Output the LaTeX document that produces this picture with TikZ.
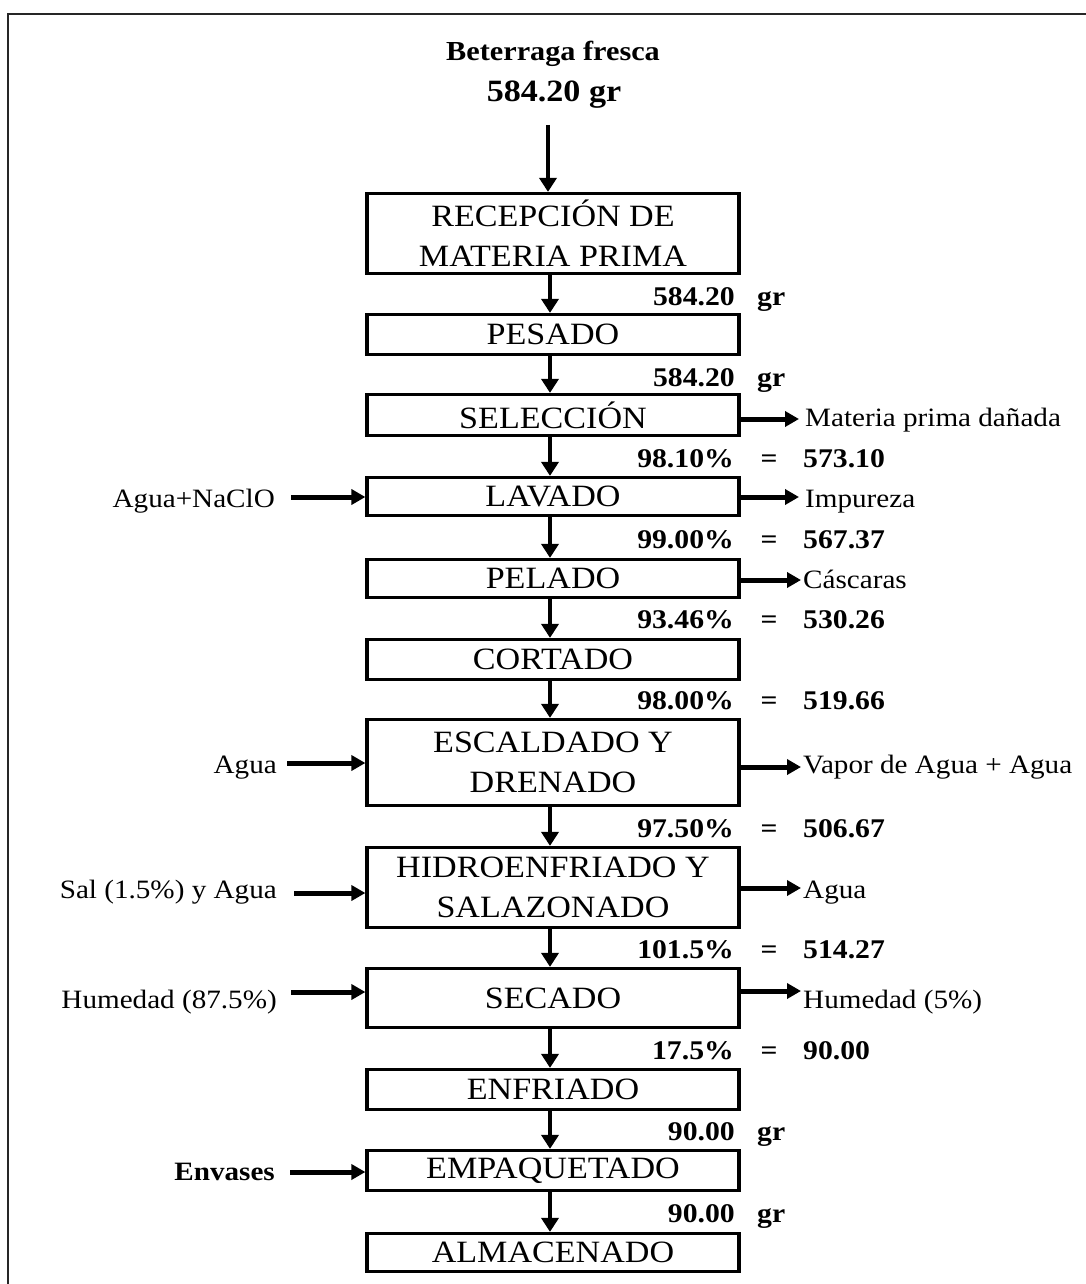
\documentclass[tikz,border=0pt]{standalone}
\usepackage{fontspec}
\setmainfont{Liberation Serif}[FakeStretch=1.1]
\usetikzlibrary{arrows.meta}
\begin{document}
\begin{tikzpicture}[x=1pt,y=-1pt,
  stepbox/.style={draw, line width=3.2pt, minimum width=372pt, inner sep=0pt,
    align=center, font=\fontsize{31}{40}\selectfont},
  qty/.style={inner sep=0pt, font=\bfseries\fontsize{27}{30}\selectfont},
  side/.style={inner sep=0pt, font=\fontsize{26.5}{30}\selectfont},
  vflow/.style={line width=4pt, -{Triangle[length=14pt,width=17pt]}},
  sflow/.style={line width=5pt, -{Triangle[length=14pt,width=15pt]}},
]
\useasboundingbox (0,0) rectangle (1086,1284);
% frame
\draw[line width=2pt, black!85] (1086,14) -- (8,14) -- (8,1284);

% raw material
\node[qty, font=\bfseries\fontsize{27.5}{30}\selectfont, anchor=base] (raw) at (553,61) {Beterraga fresca};
\node[qty, font=\bfseries\fontsize{31}{32}\selectfont, anchor=base] (rawq) at (554,102) {584.20 gr};
\coordinate (feed) at (548,125);

% process steps
\node[stepbox, minimum height=80pt] (rec) at (553,233.5) {RECEPCIÓN DE\\MATERIA PRIMA};
\node[stepbox, minimum height=40pt] (pes) at (553,334.5) {PESADO};
\node[stepbox, minimum height=41pt] (sel) at (553,415) {SELECCIÓN};
\node[stepbox, minimum height=38pt] (lav) at (553,496.5) {LAVADO};
\node[stepbox, minimum height=38pt] (pel) at (553,578.5) {PELADO};
\node[stepbox, minimum height=40pt] (cor) at (553,659.5) {CORTADO};
\node[stepbox, minimum height=86pt] (esc) at (553,762.5) {ESCALDADO Y\\DRENADO};
\node[stepbox, minimum height=80pt] (hid) at (553,887.5) {HIDROENFRIADO Y\\SALAZONADO};
\node[stepbox, minimum height=59pt] (sec) at (553,998) {SECADO};
\node[stepbox, minimum height=40pt] (enf) at (553,1089.5) {ENFRIADO};
\node[stepbox, minimum height=40pt] (emp) at (553,1170.5) {EMPAQUETADO};
\node[stepbox, minimum height=38pt] (alm) at (553,1252.5) {ALMACENADO};

% main flow
\draw[vflow] (feed) -- (rec.north -| feed);
\foreach \a/\b in {rec/pes, pes/sel, sel/lav, lav/pel, pel/cor, cor/esc,
                   esc/hid, hid/sec, sec/enf, enf/emp, emp/alm}
  \draw[vflow] ([xshift=-3pt]\a.south) -- ([xshift=-3pt]\b.north);

% quantities between steps
\node[qty, anchor=base east] (q1) at (735,305) {584.20};
\node[qty, anchor=base west] (u1) at (757,305) {gr};
\node[qty, anchor=base east] (q2) at (735,386) {584.20};
\node[qty, anchor=base west] (u2) at (757,386) {gr};
\foreach \n/\yy/\p/\v in {3/467/98.10/573.10, 4/548/99.00/567.37,
    5/628/93.46/530.26, 6/709/98.00/519.66, 7/837/97.50/506.67,
    8/958/101.5/514.27, 9/1059/17.5/90.00} {
  \node[qty, anchor=base east] (p\n) at (734,\yy) {\p\%};
  \node[qty, anchor=base] (e\n) at (769,\yy) {=};
  \node[qty, anchor=base west] (v\n) at (803,\yy) {\v};
}
\node[qty, anchor=base east] (q10) at (735,1140) {90.00};
\node[qty, anchor=base west] (u10) at (757,1140) {gr};
\node[qty, anchor=base east] (q11) at (735,1222) {90.00};
\node[qty, anchor=base west] (u11) at (757,1222) {gr};

% outputs
\node[side, anchor=base west] (mpd) at (805,426) {Materia prima dañada};
\node[side, anchor=base west] (imp) at (805,507) {Impureza};
\node[side, anchor=base west] (cas) at (803,588) {Cáscaras};
\node[side, anchor=base west] (vap) at (803,773) {Vapor de Agua + Agua};
\node[side, anchor=base west] (agr) at (803,898) {Agua};
\node[side, anchor=base west] (hum5) at (803,1008) {Humedad (5\%)};
\coordinate (mpdIn) at (799,419);
\coordinate (impIn) at (799,497);
\coordinate (casIn) at (801,580);
\coordinate (vapIn) at (801,767);
\coordinate (agrIn) at (801,888);
\coordinate (hum5In) at (801,991);
\draw[sflow] (sel.east |- mpdIn) -- (mpdIn);
\draw[sflow] (lav.east |- impIn) -- (impIn);
\draw[sflow] (pel.east |- casIn) -- (casIn);
\draw[sflow] (esc.east |- vapIn) -- (vapIn);
\draw[sflow] (hid.east |- agrIn) -- (agrIn);
\draw[sflow] (sec.east |- hum5In) -- (hum5In);

% inputs
\node[side, anchor=base east] (nacl) at (275,507) {Agua+NaClO};
\node[side, anchor=base east] (agl) at (277,773) {Agua};
\node[side, anchor=base east] (sal) at (277,898) {Sal (1.5\%) y Agua};
\node[side, anchor=base east] (hum) at (277,1008) {Humedad (87.5\%)};
\node[qty, font=\bfseries\fontsize{26.5}{30}\selectfont, anchor=base east] (env) at (275,1180) {Envases};
\coordinate (naclOut) at (291,497);
\coordinate (aglOut) at (287,763);
\coordinate (salOut) at (294,893);
\coordinate (humOut) at (291,992);
\coordinate (envOut) at (290,1172);
\draw[sflow] (naclOut) -- (lav.west |- naclOut);
\draw[sflow] (aglOut) -- (esc.west |- aglOut);
\draw[sflow] (salOut) -- (hid.west |- salOut);
\draw[sflow] (humOut) -- (sec.west |- humOut);
\draw[sflow] (envOut) -- (emp.west |- envOut);
\end{tikzpicture}
\end{document}
